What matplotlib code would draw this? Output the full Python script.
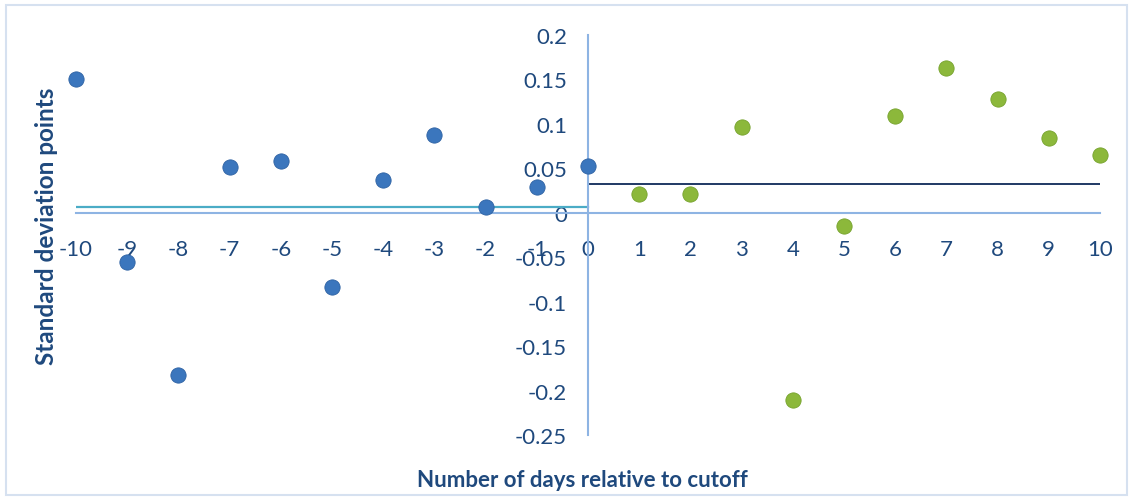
import matplotlib.pyplot as plt
import numpy as np

# days relative to cutoff and the values
days_before = [-10, -9, -8, -7, -6, -5, -4, -3, -2, -1, 0]
vals_before = [0.150, -0.055, -0.183, 0.051, 0.058, -0.083, 0.037, 0.088, 0.007, 0.029, 0.053]
days_after = [1, 2, 3, 4, 5, 6, 7, 8, 9, 10]
vals_after = [0.021, 0.021, 0.096, -0.211, -0.015, 0.109, 0.163, 0.128, 0.084, 0.065]
mean_before = 0.007
mean_after = 0.032

x_ticks = list(range(-10, 11))
y_ticks = [-0.25, -0.2, -0.15, -0.1, -0.05, 0, 0.05, 0.1, 0.15, 0.2]
y_labels = ['-0.25', '-0.2', '-0.15', '-0.1', '-0.05', '0', '0.05', '0.1', '0.15', '0.2']

text_col = '#1f497d'
axis_col = '#8eb4e3'

plt.rcParams['font.family'] = ['Lato', 'DejaVu Sans']

fig = plt.figure(figsize=(11.33, 5.02), dpi=100)
W, H = 1133, 502
ax = fig.add_axes([76 / W, 1 - 436 / H, (1100 - 76) / W, (436 - 36) / H])

ax.set_xlim(-10, 10)
ax.set_ylim(-0.25, 0.2)

for s in ['top', 'right']:
    ax.spines[s].set_visible(False)
ax.spines['left'].set_position(('data', 0))
ax.spines['bottom'].set_position(('data', 0))
for s in ['left', 'bottom']:
    ax.spines[s].set_color(axis_col)
    ax.spines[s].set_linewidth(1.5)

ax.set_xticks(x_ticks)
ax.set_xticklabels([str(t) for t in x_ticks])
ax.set_yticks(y_ticks)
ax.set_yticklabels(y_labels)
ax.tick_params(axis='x', length=0, pad=19, labelsize=16, labelcolor=text_col)
ax.tick_params(axis='y', length=0, pad=15, labelsize=16, labelcolor=text_col)

# group means
ax.plot([-10, 0], [mean_before, mean_before], color='#4bacc6', lw=1.6, zorder=2)
ax.plot([0, 10], [mean_after, mean_after], color='#1f3864', lw=1.4, zorder=2)

ax.plot(days_before, vals_before, 'o', color='#3b76bd', markersize=11,
        markeredgecolor='#2e62a3', markeredgewidth=0.6, clip_on=False, zorder=3)
ax.plot(days_after, vals_after, 'o', color='#8cb83b', markersize=11,
        markeredgecolor='#76a22d', markeredgewidth=0.6, clip_on=False, zorder=3)

fig.text(46 / W, 1 - 226 / H, 'Standard deviation points', rotation=90,
         ha='center', va='center', fontsize=17.5, fontweight='bold', color=text_col)
fig.text(582 / W, 1 - 481 / H, 'Number of days relative to cutoff',
         ha='center', va='center', fontsize=16, fontweight='bold', color=text_col)

# outer chart frame
fig.patches.append(plt.Rectangle((6 / W, 1 - 496 / H), 1121 / W, 490 / H,
                                 transform=fig.transFigure, fill=False,
                                 edgecolor='#d6e1f0', lw=1.5))

fig.savefig('out.png', dpi=100)
